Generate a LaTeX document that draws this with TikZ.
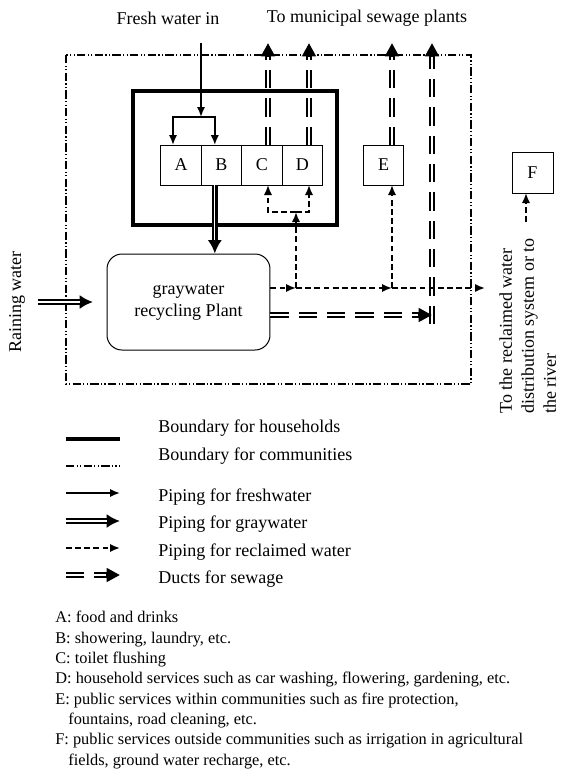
\documentclass[tikz,border=0pt]{standalone}
\usepackage{fontspec}
\setmainfont{Liberation Serif}
\usetikzlibrary{arrows.meta,positioning}

\tikzset{
	usebox/.style={draw, line width=0.6pt, minimum width=24.3pt, minimum height=24pt,
		inner sep=0pt, outer sep=0pt, font=\fontsize{10.8}{13}\selectfont},
	lbl/.style={inner sep=0pt, font=\fontsize{10.8}{13.2}\selectfont},
	household/.style={line width=2.4pt},
	community/.style={line width=1pt, dash pattern=on 5pt off 1.4pt on 0.7pt off 1.4pt on 0.7pt off 1.4pt},
	freshpipe/.style={line width=1.1pt, -{Latex[length=6pt,width=5pt]}},
	graypipe/.style={line width=3.3pt, -{Latex[length=8pt,width=8.5pt]},
		postaction={draw=white, line width=0.7pt, -, shorten >=8pt}},
	reclpipe/.style={line width=1.1pt, dash pattern=on 3.5pt off 2pt, -{Latex[length=6pt,width=5pt]}},
	sewduct/.style={line width=3.4pt, dash pattern=on 11pt off 6pt, -{Triangle[length=8pt,width=8pt]},
		postaction={draw=white, line width=0.8pt, -, dash pattern=on 11pt off 6pt, shorten >=8.5pt}},
}

\begin{document}
\begin{tikzpicture}[x=0.6pt,y=-0.6pt]
	\useasboundingbox (0,0) rectangle (581,776);

	% boundaries
	\draw[community] (66,55) rectangle (471,384);
	\draw[household] (133,91) rectangle (337,225);

	% users
	\node[usebox] (A) at (181,165) {A};
	\node[usebox, right=0pt of A] (B) {B};
	\node[usebox, right=0pt of B] (C) {C};
	\node[usebox, right=0pt of C] (D) {D};
	\node[usebox] (E) at (383.5,165) {E};
	\node[usebox, minimum width=24.6pt, minimum height=24.6pt] (F) at (532.5,172.5) {F};

	\node[draw, line width=0.6pt, rounded corners=9pt, minimum width=97.8pt, minimum height=57.6pt,
		align=center, lbl] (plant) at (188.5,302) {graywater\\recycling Plant};

	% labels
	\node[lbl] (freshin) at (168,18) {Fresh water in};
	\node[lbl] (sewout) at (367,18) {To municipal sewage plants};
	\node[lbl, rotate=90] (rainlbl) at (17,302) {Raining water};
	\node[lbl, rotate=90, align=left, anchor=north west] (reclbl) at (499,414)
		{To the reclaimed water\\distribution system or to\\the river};

	\coordinate (outC) at (268,43);
	\coordinate (outD) at (309,43);
	\coordinate (outE) at (392,43);
	\coordinate (outP) at (432,43);
	\coordinate (sj) at (432,315);
	\coordinate (sb) at (432,324);
	\coordinate (fw) at (201,43);
	\coordinate (fj) at (201,117);
	\coordinate (j1) at (296,288);
	\coordinate (j2) at (392,288);
	\coordinate (hj) at (296,212);
	\coordinate (rout) at (485,288);
	\coordinate (fin) at (526,222);
	\coordinate (rain) at (38,302);
	\coordinate (rainend) at (93,302);

	% sewage
	\draw[sewduct] (C.north -| outC) -- (outC);
	\draw[sewduct] (D.north -| outD) -- (outD);
	\draw[sewduct] (E.north -| outE) -- (outE);
	\draw[sewduct] (sb) -- (outP);
	\draw[sewduct] (plant.east |- sj) -- (sj);

	% fresh water
	\draw[freshpipe] (fw) -- (fj);
	\draw[freshpipe] (fj) -| ([xshift=-4.8pt]A.north);
	\draw[freshpipe] (fj) -| ([xshift=-4pt]B.north);

	% graywater
	\draw[graypipe] ([xshift=-4pt]B.south) -- ([xshift=-4pt]B.south |- plant.north);
	\draw[graypipe] (rain) -- (rainend);

	% reclaimed water
	\draw[reclpipe] (plant.east |- j1) -- (j1);
	\draw[reclpipe] (j1) -- (j2);
	\draw[reclpipe] (j2) -- (rout);
	\draw[reclpipe] (j1) -- (hj);
	\draw[reclpipe] (hj) -| (C.south -| outC);
	\draw[reclpipe] (hj) -| (D.south -| outD);
	\draw[reclpipe] (j2) -- (E.south -| outE);
	\draw[reclpipe] (fin) -- (F.south -| fin);

	% legend
	\foreach \i/\ly/\ty/\sty/\txt in {1/439/428/household/Boundary for households,
		2/466/456/community/Boundary for communities,
		3/493/497/freshpipe/Piping for freshwater,
		4/521/524/graypipe/Piping for graywater,
		5/548/552/reclpipe/Piping for reclaimed water,
		6/575/579/sewduct/Ducts for sewage}
	{
		\coordinate (ls\i) at (66,\ly);
		\coordinate (le\i) at (120,\ly);
		\draw[\sty] (ls\i) -- (le\i);
		\node[lbl, anchor=west] (lg\i) at (158,\ty) {\txt};
	}

	\node[inner sep=0pt, anchor=north west, align=left, font=\fontsize{9.8}{12.2}\selectfont] (notes) at (55,611)
		{A: food and drinks\\
		B: showering, laundry, etc.\\
		C: toilet flushing\\
		D: household services such as car washing, flowering, gardening, etc.\\
		E: public services within communities such as fire protection,\\
		\hspace*{7.8pt}fountains, road cleaning, etc.\\
		F: public services outside communities such as irrigation in agricultural\\
		\hspace*{7.8pt}fields, ground water recharge, etc.};
\end{tikzpicture}
\end{document}
